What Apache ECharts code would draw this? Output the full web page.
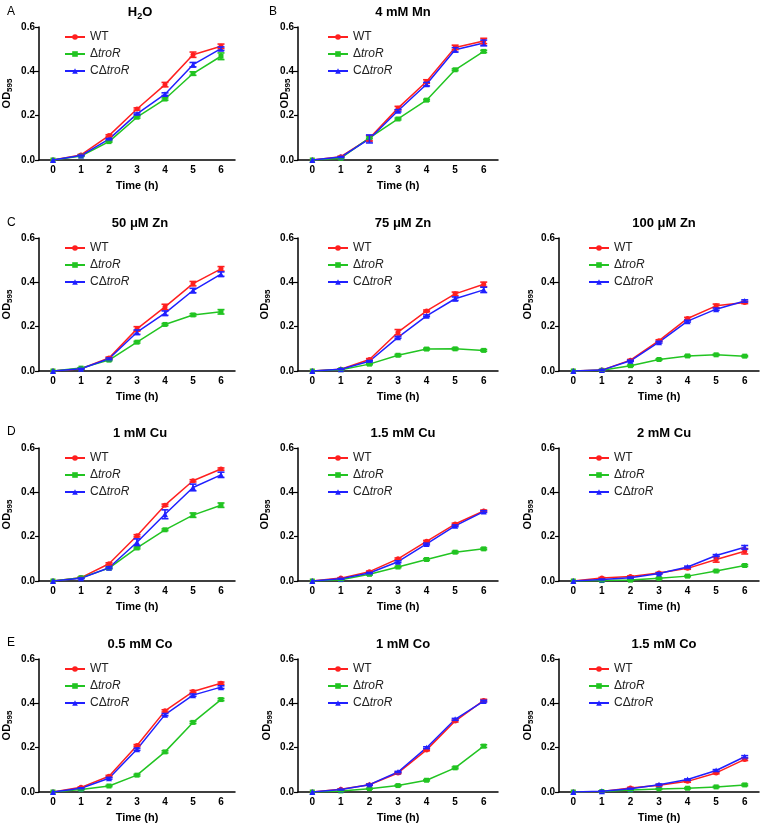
<!DOCTYPE html>
<html><head><meta charset="utf-8">
<script src="https://cdn.jsdelivr.net/npm/echarts@6/dist/echarts.min.js"></script>
<style>html,body{margin:0;padding:0;background:#fff}#c{width:760px;height:824px}</style>
</head><body><div id="c"></div>
<script>
// ---------- DATA ----------
const times = ['0','1','2','3','4','5','6'];
const seriesNames = ['WT','ΔtroR','CΔtroR'];
const panelTitles = ['H2O','4 mM Mn','50 μM Zn','75 μM Zn','100 μM Zn','1 mM Cu','1.5 mM Cu','2 mM Cu','0.5 mM Co','1 mM Co','1.5 mM Co'];
const panelLetters = ['A','B','C','D','E'];

const h2o_WT  = [0,0.023,0.110,0.230,0.340,0.475,0.513];
const h2o_KO  = [0,0.018,0.083,0.193,0.275,0.390,0.468];
const h2o_C   = [0,0.020,0.094,0.208,0.297,0.430,0.502];
const h2o_WT_err = [0,0.002,0.004,0.005,0.010,0.012,0.010];
const h2o_KO_err = [0,0.002,0.003,0.004,0.005,0.008,0.015];
const h2o_C_err  = [0,0.002,0.003,0.004,0.006,0.010,0.008];

const mn4_WT  = [0,0.015,0.098,0.234,0.354,0.508,0.537];
const mn4_KO  = [0,0.008,0.100,0.185,0.270,0.407,0.490];
const mn4_C   = [0,0.013,0.095,0.222,0.342,0.497,0.528];
const mn4_WT_err = [0,0.002,0.012,0.008,0.008,0.010,0.012];
const mn4_KO_err = [0,0.002,0.004,0.004,0.004,0.004,0.005];
const mn4_C_err  = [0,0.002,0.018,0.005,0.008,0.010,0.013];

const zn50_WT = [0,0.010,0.059,0.190,0.289,0.394,0.461];
const zn50_KO = [0,0.013,0.049,0.130,0.210,0.253,0.267];
const zn50_C  = [0,0.010,0.055,0.175,0.261,0.363,0.437];
const zn50_WT_err = [0,0.002,0.004,0.010,0.012,0.010,0.010];
const zn50_KO_err = [0,0.002,0.003,0.004,0.004,0.005,0.010];
const zn50_C_err  = [0,0.002,0.004,0.010,0.010,0.010,0.010];

const zn75_WT = [0,0.008,0.052,0.175,0.271,0.348,0.391];
const zn75_KO = [0,0.006,0.031,0.071,0.099,0.100,0.093];
const zn75_C  = [0,0.008,0.044,0.152,0.249,0.326,0.366];
const zn75_WT_err = [0,0.002,0.004,0.012,0.004,0.008,0.010];
const zn75_KO_err = [0,0.002,0.003,0.004,0.004,0.004,0.004];
const zn75_C_err  = [0,0.002,0.003,0.004,0.004,0.008,0.012];

const zn100_WT = [0,0.004,0.049,0.137,0.237,0.294,0.309];
const zn100_KO = [0,0.003,0.024,0.052,0.068,0.073,0.067];
const zn100_C  = [0,0.004,0.046,0.130,0.225,0.279,0.316];
const zn100_WT_err = [0,0.002,0.003,0.004,0.005,0.008,0.005];
const zn100_KO_err = [0,0.002,0.003,0.003,0.003,0.003,0.003];
const zn100_C_err  = [0,0.002,0.003,0.004,0.004,0.005,0.005];

const cu1_WT = [0,0.015,0.078,0.204,0.342,0.452,0.505];
const cu1_KO = [0,0.015,0.058,0.149,0.231,0.297,0.342];
const cu1_C  = [0,0.012,0.060,0.175,0.301,0.422,0.479];
const cu1_WT_err = [0,0.002,0.004,0.005,0.005,0.005,0.005];
const cu1_KO_err = [0,0.002,0.003,0.004,0.004,0.010,0.010];
const cu1_C_err  = [0,0.002,0.004,0.015,0.020,0.015,0.012];

const cu15_WT = [0,0.013,0.042,0.100,0.179,0.257,0.316];
const cu15_KO = [0,0.006,0.030,0.063,0.097,0.130,0.145];
const cu15_C  = [0,0.010,0.036,0.087,0.167,0.249,0.313];
const cu15_WT_err = [0,0.002,0.003,0.004,0.004,0.004,0.004];
const cu15_KO_err = [0,0.002,0.003,0.003,0.004,0.004,0.004];
const cu15_C_err  = [0,0.002,0.003,0.004,0.004,0.004,0.004];

const cu2_WT = [0,0.013,0.020,0.036,0.057,0.097,0.134];
const cu2_KO = [0,0.002,0.004,0.012,0.022,0.045,0.070];
const cu2_C  = [0,0.007,0.015,0.034,0.063,0.115,0.152];
const cu2_WT_err = [0,0.003,0.003,0.003,0.004,0.012,0.012];
const cu2_KO_err = [0,0.002,0.002,0.003,0.003,0.003,0.004];
const cu2_C_err  = [0,0.002,0.003,0.003,0.004,0.004,0.008];

const co05_WT = [0,0.021,0.071,0.210,0.366,0.453,0.491];
const co05_KO = [0,0.011,0.027,0.076,0.181,0.314,0.417];
const co05_C  = [0,0.017,0.062,0.193,0.349,0.437,0.473];
const co05_WT_err = [0,0.002,0.004,0.004,0.005,0.005,0.005];
const co05_KO_err = [0,0.002,0.003,0.004,0.005,0.005,0.005];
const co05_C_err  = [0,0.002,0.004,0.005,0.005,0.005,0.006];

const co1_WT = [0,0.012,0.033,0.086,0.190,0.320,0.413];
const co1_KO = [0,0.005,0.015,0.029,0.053,0.109,0.207];
const co1_C  = [0,0.011,0.033,0.090,0.200,0.328,0.410];
const co1_WT_err = [0,0.002,0.003,0.003,0.004,0.004,0.005];
const co1_KO_err = [0,0.002,0.002,0.003,0.003,0.004,0.006];
const co1_C_err  = [0,0.002,0.003,0.003,0.004,0.004,0.004];

const co15_WT = [0,0.002,0.018,0.030,0.048,0.086,0.147];
const co15_KO = [0,0.002,0.009,0.014,0.017,0.023,0.032];
const co15_C  = [0,0.003,0.015,0.033,0.056,0.097,0.159];
const co15_WT_err = [0,0.002,0.003,0.003,0.004,0.004,0.005];
const co15_KO_err = [0,0.002,0.002,0.002,0.003,0.003,0.004];
const co15_C_err  = [0,0.002,0.002,0.003,0.003,0.004,0.005];

const panelData = [
  [h2o_WT,h2o_KO,h2o_C,h2o_WT_err,h2o_KO_err,h2o_C_err],
  [mn4_WT,mn4_KO,mn4_C,mn4_WT_err,mn4_KO_err,mn4_C_err],
  [zn50_WT,zn50_KO,zn50_C,zn50_WT_err,zn50_KO_err,zn50_C_err],
  [zn75_WT,zn75_KO,zn75_C,zn75_WT_err,zn75_KO_err,zn75_C_err],
  [zn100_WT,zn100_KO,zn100_C,zn100_WT_err,zn100_KO_err,zn100_C_err],
  [cu1_WT,cu1_KO,cu1_C,cu1_WT_err,cu1_KO_err,cu1_C_err],
  [cu15_WT,cu15_KO,cu15_C,cu15_WT_err,cu15_KO_err,cu15_C_err],
  [cu2_WT,cu2_KO,cu2_C,cu2_WT_err,cu2_KO_err,cu2_C_err],
  [co05_WT,co05_KO,co05_C,co05_WT_err,co05_KO_err,co05_C_err],
  [co1_WT,co1_KO,co1_C,co1_WT_err,co1_KO_err,co1_C_err],
  [co15_WT,co15_KO,co15_C,co15_WT_err,co15_KO_err,co15_C_err]
];

// ---------- LAYOUT ----------
const colLeft = [35, 298, 559];
const rowTop = [27, 238, 448, 659];
const W = 200, H = 133;
const layout = [
  {col:0,row:0,gap:25},{col:1,row:0,gap:6},
  {col:0,row:1,gap:25},{col:1,row:1,gap:26},{col:2,row:1,gap:24},
  {col:0,row:2,gap:25},{col:1,row:2,gap:26},{col:2,row:2,gap:24},
  {col:0,row:3,gap:25},{col:1,row:3,gap:24},{col:2,row:3,gap:24}
];
const letterPos = [[2,1],[264,1],[2,212],[2,421],[2,632]];
const colors = ['#ff2020','#22c422','#2020ff'];
const symbols = ['circle','rect','triangle'];
const symSizes = [5,5,6];
const FONT = 'Liberation Sans, Arial, sans-serif';

const grids=[], xAxes=[], yAxes=[], series=[], legends=[], titles=[];
layout.forEach((L,i)=>{
  const left = colLeft[L.col], top = rowTop[L.row];
  grids.push({left:left, top:top, width:W, height:H, containLabel:false});
  xAxes.push({type:'category', gridIndex:i, data:times, boundaryGap:true,
    name:'Time (h)', nameLocation:'middle', nameGap:20, nameMoveOverlap:false,
    nameTextStyle:{fontFamily:FONT, fontSize:11, fontWeight:'bold', color:'#000'},
    axisLine:{lineStyle:{color:'#000', width:1.5}},
    axisTick:{alignWithLabel:true, length:4, lineStyle:{color:'#000', width:1.2}},
    axisLabel:{fontFamily:FONT, fontSize:10, fontWeight:'bold', color:'#000', margin:5},
    splitLine:{show:false}});
  yAxes.push({type:'value', gridIndex:i, min:0, max:0.6, interval:0.2,
    name:'{a|OD}{s|595}', nameLocation:'middle', nameRotate:90, nameGap:L.gap, nameMoveOverlap:false,
    nameTextStyle:{rich:{
      a:{fontFamily:FONT, fontSize:11, fontWeight:'bold', color:'#000', lineHeight:13, verticalAlign:'top'},
      s:{fontFamily:FONT, fontSize:8, fontWeight:'bold', color:'#000', lineHeight:10, padding:[5,0,0,0], verticalAlign:'bottom'}}},
    axisLine:{show:true, lineStyle:{color:'#000', width:1.5}},
    axisTick:{show:true, length:4, lineStyle:{color:'#000', width:1.2}},
    axisLabel:{fontFamily:FONT, fontSize:10, fontWeight:'bold', color:'#000', margin:4,
      formatter:v=>v.toFixed(1)},
    splitLine:{show:false}});
  const d = panelData[i];
  for (let k=0;k<3;k++){
    series.push({type:'line', name:seriesNames[k], xAxisIndex:i, yAxisIndex:i,
      data:d[k], symbol:symbols[k], symbolSize:symSizes[k], showSymbol:true,
      lineStyle:{color:colors[k], width:1.5}, itemStyle:{color:colors[k]},
      z:2+k, animation:false});
  }
  for (let k=0;k<3;k++){
    const col = colors[k];
    series.push({type:'custom', name:'err'+k, xAxisIndex:i, yAxisIndex:i,
      encode:{x:0,y:1}, z:5, animation:false, silent:true,
      data:d[k].map((v,t)=>[t, v, d[k+3][t]]).filter(p=>p[2]>0),
      renderItem:(params, api)=>{
        const x=api.value(0), y=api.value(1), e=api.value(2);
        const a=api.coord([x,y+e]), b=api.coord([x,y-e]);
        const hw=3.5;
        const st={stroke:col, lineWidth:1.6};
        return {type:'group', children:[
          {type:'line', shape:{x1:a[0],y1:a[1],x2:b[0],y2:b[1]}, style:st},
          {type:'line', shape:{x1:a[0]-hw,y1:a[1],x2:a[0]+hw,y2:a[1]}, style:st},
          {type:'line', shape:{x1:b[0]-hw,y1:b[1],x2:b[0]+hw,y2:b[1]}, style:st}
        ]};
      }});
  }
  legends.push({orient:'vertical', left:left+24, top:top-1, itemWidth:20, itemHeight:7, itemGap:5,
    selectedMode:false, data:seriesNames,
    formatter:n=> n==='WT' ? '{n|WT}' : (n==='ΔtroR' ? '{n|Δ}{i|troR}' : '{n|CΔ}{i|troR}'),
    textStyle:{rich:{
      n:{fontFamily:FONT, fontSize:12, color:'#222', lineHeight:14},
      i:{fontFamily:FONT, fontSize:12, fontStyle:'italic', color:'#222', lineHeight:14}}}});
  const t = panelTitles[i];
  titles.push({text: t==='H2O' ? '{b|H}{s|2}{b|O}' : '{b|'+t+'}', left:left+W/2, top:top-26, textAlign:'center',
    textStyle:{rich:{
      b:{fontFamily:FONT, fontSize:13, fontWeight:'bold', color:'#000', lineHeight:15, verticalAlign:'top'},
      s:{fontFamily:FONT, fontSize:9, fontWeight:'bold', color:'#000', lineHeight:11, padding:[6,0,0,0], verticalAlign:'bottom'}}}});
});
panelLetters.forEach((l,j)=>{
  titles.push({text:l, left:letterPos[j][0], top:letterPos[j][1],
    textStyle:{fontFamily:FONT, fontSize:12, fontWeight:'normal', color:'#000'}});
});

const chart = echarts.init(document.getElementById('c'), null, {renderer:'canvas'});
chart.setOption({animation:false, backgroundColor:'#fff', title:titles, grid:grids, xAxis:xAxes, yAxis:yAxes, legend:legends, series:series});
</script></body></html>
